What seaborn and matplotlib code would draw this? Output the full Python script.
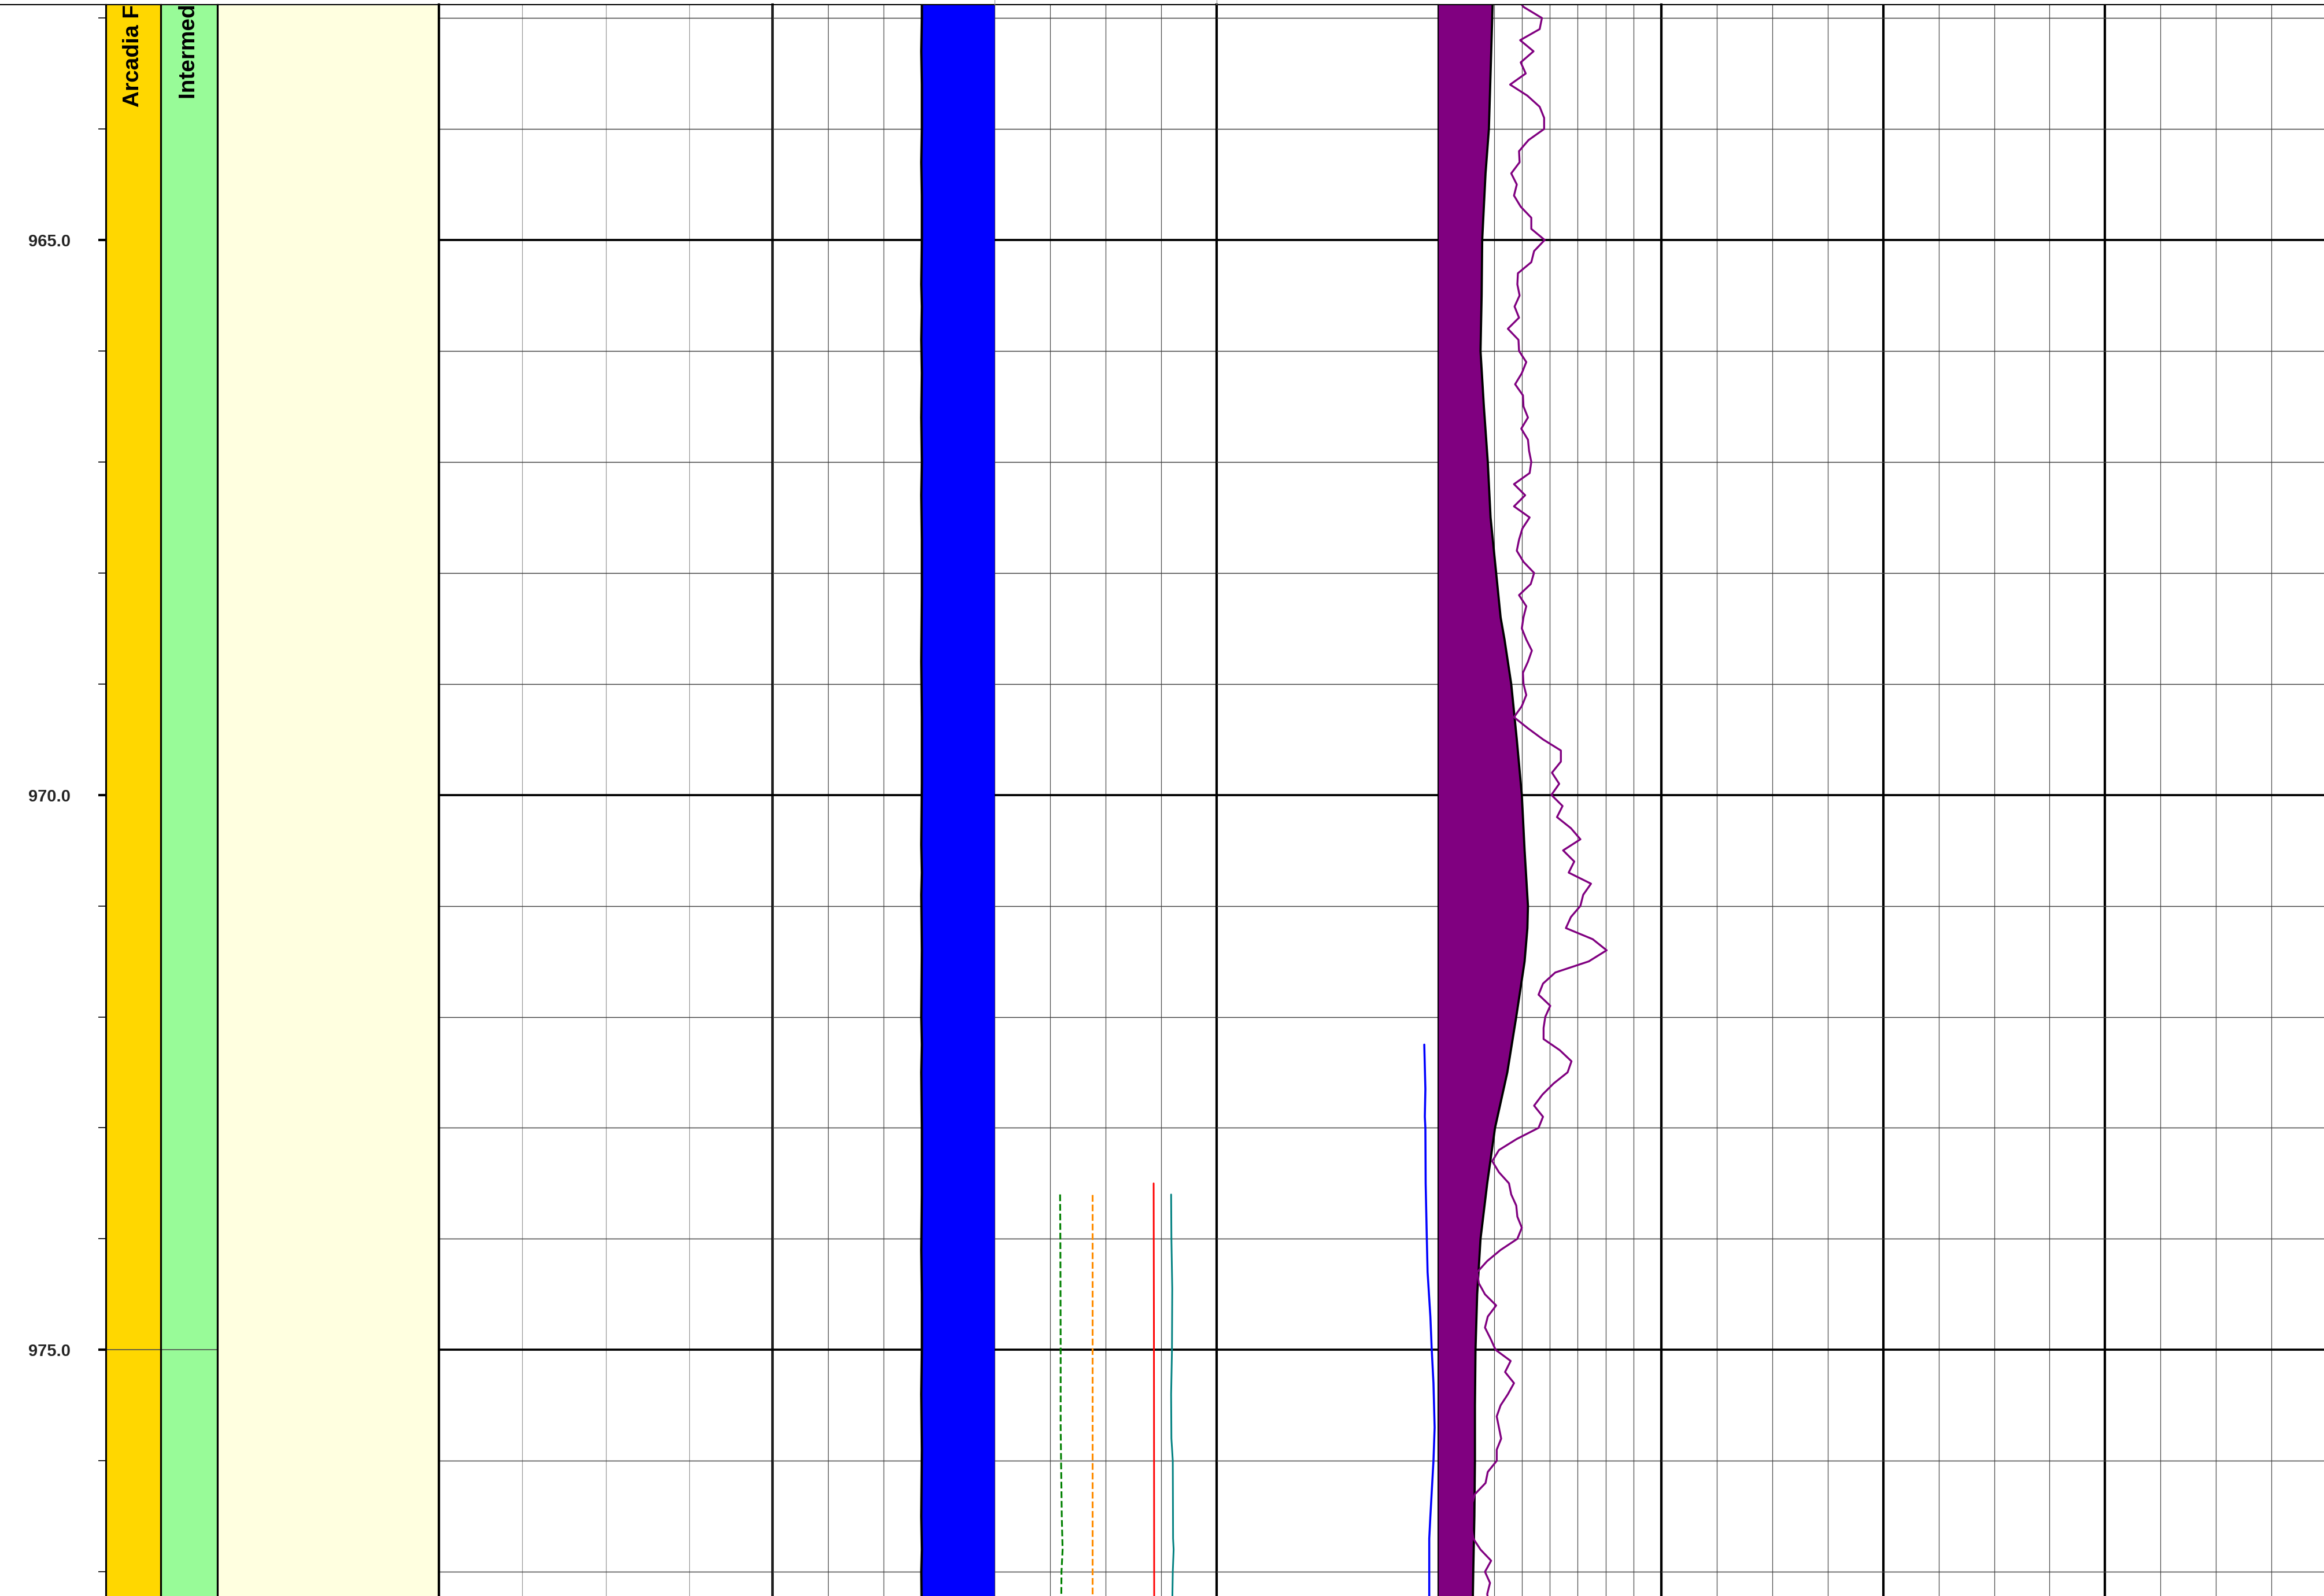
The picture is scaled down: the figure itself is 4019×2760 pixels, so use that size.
import numpy as np
import matplotlib.pyplot as plt
from matplotlib.lines import Line2D
from matplotlib.ticker import MultipleLocator, FormatStrFormatter, NullLocator
import matplotlib.transforms as mtransforms
import seaborn as sns

# %% depth window shown (m)
top_depth = 962.881
base_depth = 977.218

# formation / unit columns
fm_names = ["Arcadia FM", "Intermediate Aquifer System"]
fm_colors = ["#FFD700", "#98FB98"]
fm_label_depths = [963.80, 963.73]
fm_top = [955.0, 955.0]
fm_base = [985.0, 985.0]
fm_contacts = [975.0]

# lithology column
lith_top = [955.0]
lith_base = [985.0]
lith_colors = ["#FFFFE0"]

# caliper with bit size fill (track 4)
cal_depth = [962.5, 963.0, 963.3, 963.6, 964.0, 964.3, 964.6, 965.0, 965.4, 965.6,
             965.9, 966.2, 966.6, 967.0, 967.3, 967.7, 968.2, 968.8, 969.3, 969.9,
             970.45, 970.7, 970.9, 971.4, 972.0, 972.25, 972.5, 973.0, 973.6, 974.1,
             974.5, 975.0, 975.4, 975.9, 976.5, 976.8, 977.0, 977.5]
cal = [5.38, 5.38, 5.36, 5.38, 5.38, 5.36, 5.38, 5.38, 5.36, 5.38,
       5.36, 5.38, 5.36, 5.38, 5.36, 5.38, 5.38, 5.36, 5.38, 5.38,
       5.36, 5.38, 5.36, 5.38, 5.36, 5.38, 5.36, 5.38, 5.38, 5.36,
       5.38, 5.38, 5.36, 5.38, 5.36, 5.38, 5.36, 5.38]
bit_size = 8.0

# other curves in track 4
green_depth = [973.6, 974.05, 975.0, 975.7, 976.5, 976.8, 977.0, 977.3]
green_vals = [10.36, 10.37, 10.38, 10.38, 10.42, 10.45, 10.41, 10.40]
orange_depth = [973.6, 977.3]
orange_vals = [11.53, 11.53]
red_depth = [973.5, 974.8, 977.3]
red_vals = [13.73, 13.74, 13.75]
teal_depth = [973.6, 974.0, 974.45, 975.0, 975.4, 975.8, 976.0, 976.7, 976.8, 977.0, 977.3]
teal_vals = [14.36, 14.37, 14.40, 14.39, 14.36, 14.37, 14.42, 14.43, 14.45, 14.42, 14.40]

# blue curve in track 5
blue_depth = [972.25, 972.65, 972.9, 973.0, 973.5, 974.0, 974.3, 974.7, 975.0, 975.3,
              975.7, 976.0, 976.5, 976.7, 977.3]
blue_vals = [37.5, 37.7, 37.6, 37.7, 37.75, 37.96, 38.1, 38.6, 38.85, 39.16,
             39.37, 39.16, 38.6, 38.4, 38.4]

# shaded curve in track 6
vsh_depth = [962.8, 963.0, 964.0, 964.4, 965.0, 965.5, 966.0, 966.5, 967.0, 967.5,
             968.0, 968.4, 968.6, 969.0, 969.5, 970.0, 970.5, 971.0, 971.2, 971.5,
             972.0, 972.5, 973.0, 973.5, 974.0, 974.5, 975.0, 975.5, 976.0, 976.5,
             977.0, 977.3]
vsh_vals = [98, 97, 91, 85, 79, 78, 76, 82, 89, 94,
            104, 112, 119, 131, 141, 150, 155, 161, 160, 155,
            140, 124, 102, 88, 76, 70, 67, 66, 66, 65,
            63, 62]

# purple log, LAS style start / step
pl_strt = 962.8
pl_step = 0.1
pl_vals = [138, 153, 186, 182, 147, 171, 148, 157, 129, 160,
           182, 190, 190, 162, 145, 146, 131, 141, 136, 148,
           167, 167, 191, 172, 167, 143, 142, 146, 137, 145,
           125, 144, 145, 158, 150, 138, 152, 153, 161, 149,
           161, 163, 167, 164, 136, 156, 136, 164, 151, 145,
           141, 153, 172, 166, 145, 158, 153, 150, 158, 168,
           161, 152, 153, 158, 150, 136, 161, 188, 220, 220,
           204, 217, 203, 223, 213, 238, 255, 224, 244, 234,
           274, 260, 255, 238, 229, 277, 302, 270, 210, 188,
           180, 201, 192, 189, 189, 218, 239, 232, 207, 187,
           172, 188, 180, 141, 109, 97, 109, 127, 131, 140,
           142, 150, 142, 112, 88, 70, 73, 84, 104, 89,
           84, 94, 103, 130, 120, 136, 125, 112, 105, 109,
           113, 105, 105, 89, 85, 66, 60, 58, 60, 63,
           76, 95, 84, 93, 88, 91]
pl_depth = pl_strt + pl_step * np.arange(len(pl_vals))

# %% figure
sns.set_theme(style="white")
plt.rcParams['font.family'] = ['Liberation Sans', 'DejaVu Sans']

W, H = 4019, 2760
fig = plt.figure(figsize=(W / 300, H / 300), dpi=300)
top_frac = 1 - 8.3 / H


def add_track(x0, x1):
    ax = fig.add_axes([x0 / W, 0, (x1 - x0) / W, top_frac])
    ax.patch.set_visible(False)
    return ax


def style_track(ax, xlim, xstep=None, xcol='0.3', xmajor=None, ygrid=True):
    ax.set_xlim(*xlim)
    ax.set_ylim(base_depth, top_depth)
    ax.set_xlabel("")
    ax.set_ylabel("")
    ax.set_axisbelow(True)
    ax.yaxis.set_major_locator(MultipleLocator(5))
    ax.yaxis.set_minor_locator(MultipleLocator(1))
    if ygrid:
        ax.grid(which='major', axis='y', color='black', lw=0.9)
        ax.grid(which='minor', axis='y', color='0.25', lw=0.35)
    if xmajor is not None:
        ax.xaxis.set_major_locator(MultipleLocator(xmajor))
        ax.xaxis.set_minor_locator(MultipleLocator(xstep))
        ax.grid(which='major', axis='x', color='black', lw=1.0)
        ax.grid(which='minor', axis='x', color=xcol, lw=0.3)
    elif xstep is not None:
        ax.xaxis.set_major_locator(MultipleLocator(xstep))
        ax.grid(which='major', axis='x', color=xcol, lw=0.3)
    else:
        ax.xaxis.set_major_locator(NullLocator())
    ax.tick_params(axis='both', which='both', length=0,
                   labelleft=False, labelbottom=False)
    for s in ['top', 'bottom']:
        ax.spines[s].set_visible(False)
    for s in ['left', 'right']:
        ax.spines[s].set_color('black')
        ax.spines[s].set_linewidth(1.0)


# formation columns
fm_edges = [183, 278, 376]
fm_axes = []
for i, name in enumerate(fm_names):
    ax = add_track(fm_edges[i], fm_edges[i + 1])
    ax.fill_betweenx([fm_top[i], fm_base[i]], 0, 1, color=fm_colors[i], lw=0)
    ax.hlines(fm_contacts, 0, 1, color='0.3', lw=0.4)
    style_track(ax, (0, 1), ygrid=False)
    trans = mtransforms.blended_transform_factory(ax.transAxes, ax.transData)
    ax.text(0.5, fm_label_depths[i], name, transform=trans, rotation=90,
            ha='center', va='bottom', fontsize=9.3, fontweight='bold',
            color='black', clip_on=True)
    ax.spines['left'].set_linewidth(0.75)
    ax.spines['right'].set_linewidth(0.75)
    fm_axes.append(ax)

# depth labels on the first column
ax0 = fm_axes[0]
ax0.yaxis.set_major_formatter(FormatStrFormatter('%.1f'))
ax0.tick_params(axis='y', which='major', left=True, length=3.1, width=1.0,
                pad=11.5, labelleft=True, labelsize=7, color='black')
ax0.tick_params(axis='y', which='minor', left=True, length=3.1, width=0.4,
                color='black')
for lab in ax0.get_yticklabels():
    lab.set_fontweight('bold')

# lithology
ax_lith = add_track(376, 759)
ax_lith.fill_betweenx([lith_top[0], lith_base[0]], 0, 1, color=lith_colors[0], lw=0)
style_track(ax_lith, (0, 1), ygrid=False)
ax_lith.spines['left'].set_linewidth(0.75)
ax_lith.spines['right'].set_visible(False)

# track 3 (empty)
ax3 = add_track(759, 1336)
style_track(ax3, (0, 200), xstep=50, xcol='0.6')

# track 4
ax4 = add_track(1336, 2104)
ax4.fill_betweenx(cal_depth, cal, bit_size, color='#0000FF', lw=0)
sns.lineplot(x=cal, y=cal_depth, orient='y', estimator=None, sort=False,
             color='black', lw=1.0, ax=ax4)
sns.lineplot(x=green_vals, y=green_depth, orient='y', estimator=None, sort=False,
             color='green', lw=0.75, linestyle='--', ax=ax4)
sns.lineplot(x=orange_vals, y=orange_depth, orient='y', estimator=None, sort=False,
             color='darkorange', lw=0.75, linestyle='--', ax=ax4)
sns.lineplot(x=red_vals, y=red_depth, orient='y', estimator=None, sort=False,
             color='red', lw=0.7, ax=ax4)
sns.lineplot(x=teal_vals, y=teal_depth, orient='y', estimator=None, sort=False,
             color='teal', lw=0.7, ax=ax4)
style_track(ax4, (0, 16), xstep=2, xcol='0.3')
ax4.spines['left'].set_visible(False)

# track 5
ax5 = add_track(2104, 2487)
sns.lineplot(x=blue_vals, y=blue_depth, orient='y', estimator=None, sort=False,
             color='#0000FF', lw=0.85, ax=ax5)
style_track(ax5, (0, 40))
ax5.spines['left'].set_visible(False)
ax5.spines['right'].set_visible(False)

# track 6
ax6 = add_track(2487, 2873)
ax6.fill_betweenx(vsh_depth, 0, vsh_vals, color='#800080', lw=0)
sns.lineplot(x=vsh_vals, y=vsh_depth, orient='y', estimator=None, sort=False,
             color='black', lw=0.9, ax=ax6)
sns.lineplot(x=pl_vals, y=pl_depth, orient='y', estimator=None, sort=False,
             color='#800080', lw=0.8, ax=ax6)
style_track(ax6, (0, 400), xstep=50, xcol='0.3')
ax6.spines['left'].set_linewidth(0.5)

# track 7 (empty, runs off the right edge)
ax7 = add_track(2873, 4024)
style_track(ax7, (0, 12), xstep=1, xcol='0.3', xmajor=4)
ax7.spines['left'].set_visible(False)

# header boundary
yline = 1 - 8.3 / H
fig.add_artist(Line2D([0, 1], [yline, yline], transform=fig.transFigure,
                      color='black', lw=0.5))
for xh in [1720, 2104]:
    fig.add_artist(Line2D([xh / W, xh / W], [yline, 1], transform=fig.transFigure,
                          color='0.6', lw=0.3))

plt.savefig('out.png', dpi=300)
